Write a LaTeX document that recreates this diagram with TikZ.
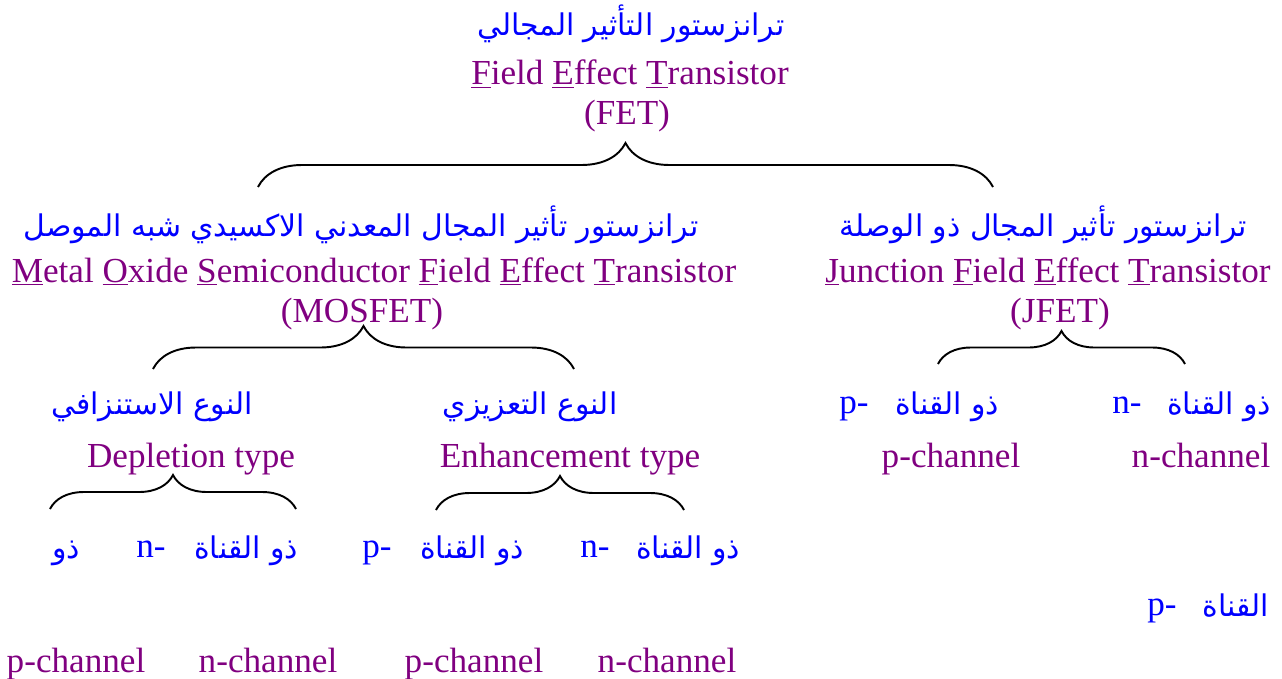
\documentclass[tikz,border=0pt]{standalone}
\usepackage{fontspec}
\setmainfont{Liberation Serif}
\newfontfamily\arabicfont[Script=Arabic]{DejaVu Sans}
\TeXXeTstate=1
\usetikzlibrary{decorations.pathreplacing,positioning}
\definecolor{fetpurple}{RGB}{128,0,128}
\definecolor{arblue}{RGB}{0,0,255}
\tikzset{
    en/.style={text=fetpurple, font=\fontsize{20}{24}\selectfont, anchor=base, inner sep=0pt},
    ar/.style={text=arblue, font=\arabicfont\fontsize{17}{24}\selectfont, anchor=base, inner sep=0pt},
    tag/.style={text=arblue, font=\fontsize{20}{24}\selectfont, anchor=base, inner sep=0pt},
    brc/.style={decorate, decoration={brace, amplitude=#1}, line width=1.1pt},
}

\begin{document}
\begin{tikzpicture}[x=0.02cm, y=-0.02cm]
    \useasboundingbox (0,0) rectangle (1282,679);

    \node[ar] (arFET) at (631,36) {\beginR ترانزستور التأثير المجالي\endR};
    \node[en] (enFET) at (630,85) {\underline{F}ield \underline{E}ffect \underline{T}ransistor};
    \node[en] (abFET) at (627,125) {(FET)};

    \node[ar] (arMOS) at (361,236) {\beginR ترانزستور تأثير المجال المعدني الاكسيدي شبه الموصل\endR};
    \node[en] (enMOS) at (374,282) {\underline{M}etal \underline{O}xide \underline{S}emiconductor \underline{F}ield \underline{E}ffect \underline{T}ransistor};
    \node[en] (abMOS) at (362,322) {(MOSFET)};

    \node[ar] (arJFET) at (1043,236) {\beginR ترانزستور تأثير المجال ذو الوصلة\endR};
    \node[en] (enJFET) at (1048,282) {\underline{J}unction \underline{F}ield \underline{E}ffect \underline{T}ransistor};
    \node[en] (abJFET) at (1060,322) {(JFET)};

    \node[ar] (arDep) at (152,414) {\beginR النوع الاستنزافي\endR};
    \node[en] (enDep) at (191,467) {Depletion type};
    \node[ar] (arEnh) at (530,414) {\beginR النوع التعزيزي\endR};
    \node[en] (enEnh) at (570,467) {Enhancement type};

    \node[tag] (jpTag) at (854,413) {p-};
    \node[ar] (jpAr) at (947,414) {\beginR ذو القناة\endR};
    \node[tag] (jnTag) at (1127,413) {n-};
    \node[ar] (jnAr) at (1219,414) {\beginR ذو القناة\endR};
    \node[en] (jpCh) at (951,467) {p-channel};
    \node[en] (jnCh) at (1201,467) {n-channel};

    \node[ar] (dpAr) at (66,558) {\beginR ذو\endR};
    \node[tag] (dnTag) at (151,557) {n-};
    \node[ar] (dnAr) at (246,558) {\beginR ذو القناة\endR};
    \node[tag] (epTag) at (377,557) {p-};
    \node[ar] (epAr) at (472,558) {\beginR ذو القناة\endR};
    \node[tag] (enTag) at (595,557) {n-};
    \node[ar] (enAr) at (688,558) {\beginR ذو القناة\endR};

    \node[tag] (dpTag) at (1162,615) {p-};
    \node[ar] (dpAr2) at (1236,616) {\beginR القناة\endR};

    \node[en] (dpCh) at (76,672) {p-channel};
    \node[en] (dnCh) at (268,672) {n-channel};
    \node[en] (epCh) at (474,672) {p-channel};
    \node[en] (enCh) at (667,672) {n-channel};

    \coordinate (fetL) at (258,187);
    \coordinate (fetR) at (993,187);
    \coordinate (mosL) at (153,369);
    \coordinate (mosR) at (574,369);
    \coordinate (jfetL) at (938,364);
    \coordinate (jfetR) at (1185,364);
    \coordinate (depL) at (50,509);
    \coordinate (depR) at (296,509);
    \coordinate (enhL) at (436,510);
    \coordinate (enhR) at (684,510);

    \draw[brc=0.88cm] (fetL) -- (fetR);
    \draw[brc=0.86cm] (mosL) -- (mosR);
    \draw[brc=0.66cm] (jfetL) -- (jfetR);
    \draw[brc=0.68cm] (depL) -- (depR);
    \draw[brc=0.68cm] (enhL) -- (enhR);
\end{tikzpicture}
\end{document}
